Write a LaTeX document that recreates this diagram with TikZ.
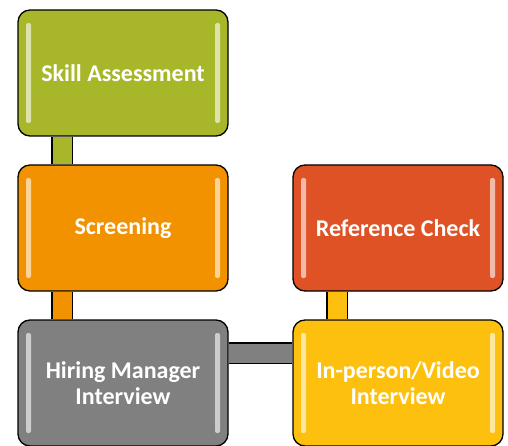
\documentclass[tikz,border=0pt]{standalone}
\usepackage{fontspec}
\setmainfont{Carlito}
\usetikzlibrary{backgrounds}
\definecolor{skillgreen}{HTML}{A8B62A}
\definecolor{screenorange}{HTML}{F39200}
\definecolor{hiregray}{HTML}{808080}
\definecolor{refred}{HTML}{DE5226}
\definecolor{interviewyellow}{HTML}{FDC00F}

\begin{document}
\begin{tikzpicture}[x=1pt, y=-1pt,
  stage/.style={draw=black, line width=1.3pt, rounded corners=12pt, fill=#1,
    minimum width=210pt, minimum height=126pt, inner sep=0pt,
    text=white, font=\fontsize{24}{26}\selectfont\bfseries, align=center,
    path picture={
      \fill[#1!40!white, rounded corners=2pt]
        ([xshift=8pt,yshift=-13pt]path picture bounding box.north west) rectangle
        ([xshift=13pt,yshift=13pt]path picture bounding box.south west);
      \fill[#1!40!white, rounded corners=2pt]
        ([xshift=-13pt,yshift=-13pt]path picture bounding box.north east) rectangle
        ([xshift=-8pt,yshift=13pt]path picture bounding box.south east);
    }},
  link/.style={draw=black, line width=1.3pt, double=#1, double distance=19pt}
]
\useasboundingbox (0,0) rectangle (508,446);

% stages
\node[stage=skillgreen] (skill) at (123,73) {Skill Assessment};
\node[stage=screenorange] (screen) at (123,228) {Screening};
\node[stage=hiregray] (hiring) at (123,383) {Hiring Manager\\Interview};
\node[stage=refred] (refcheck) at (398,228) {Reference Check};
\node[stage=interviewyellow] (inperson) at (398,383) {In-person/Video\\Interview};

% bars between stages
\begin{scope}[on background layer]
\draw[link=skillgreen] ([xshift=-61pt]skill.south) -- ([xshift=-61pt]screen.north);
\draw[link=screenorange] ([xshift=-61pt]screen.south) -- ([xshift=-61pt]hiring.north);
\draw[link=hiregray] ([yshift=30pt]hiring.east) -- ([yshift=30pt]inperson.west);
\draw[link=interviewyellow] ([xshift=-61pt]inperson.north) -- ([xshift=-61pt]refcheck.south);
\end{scope}

\end{tikzpicture}
\end{document}
